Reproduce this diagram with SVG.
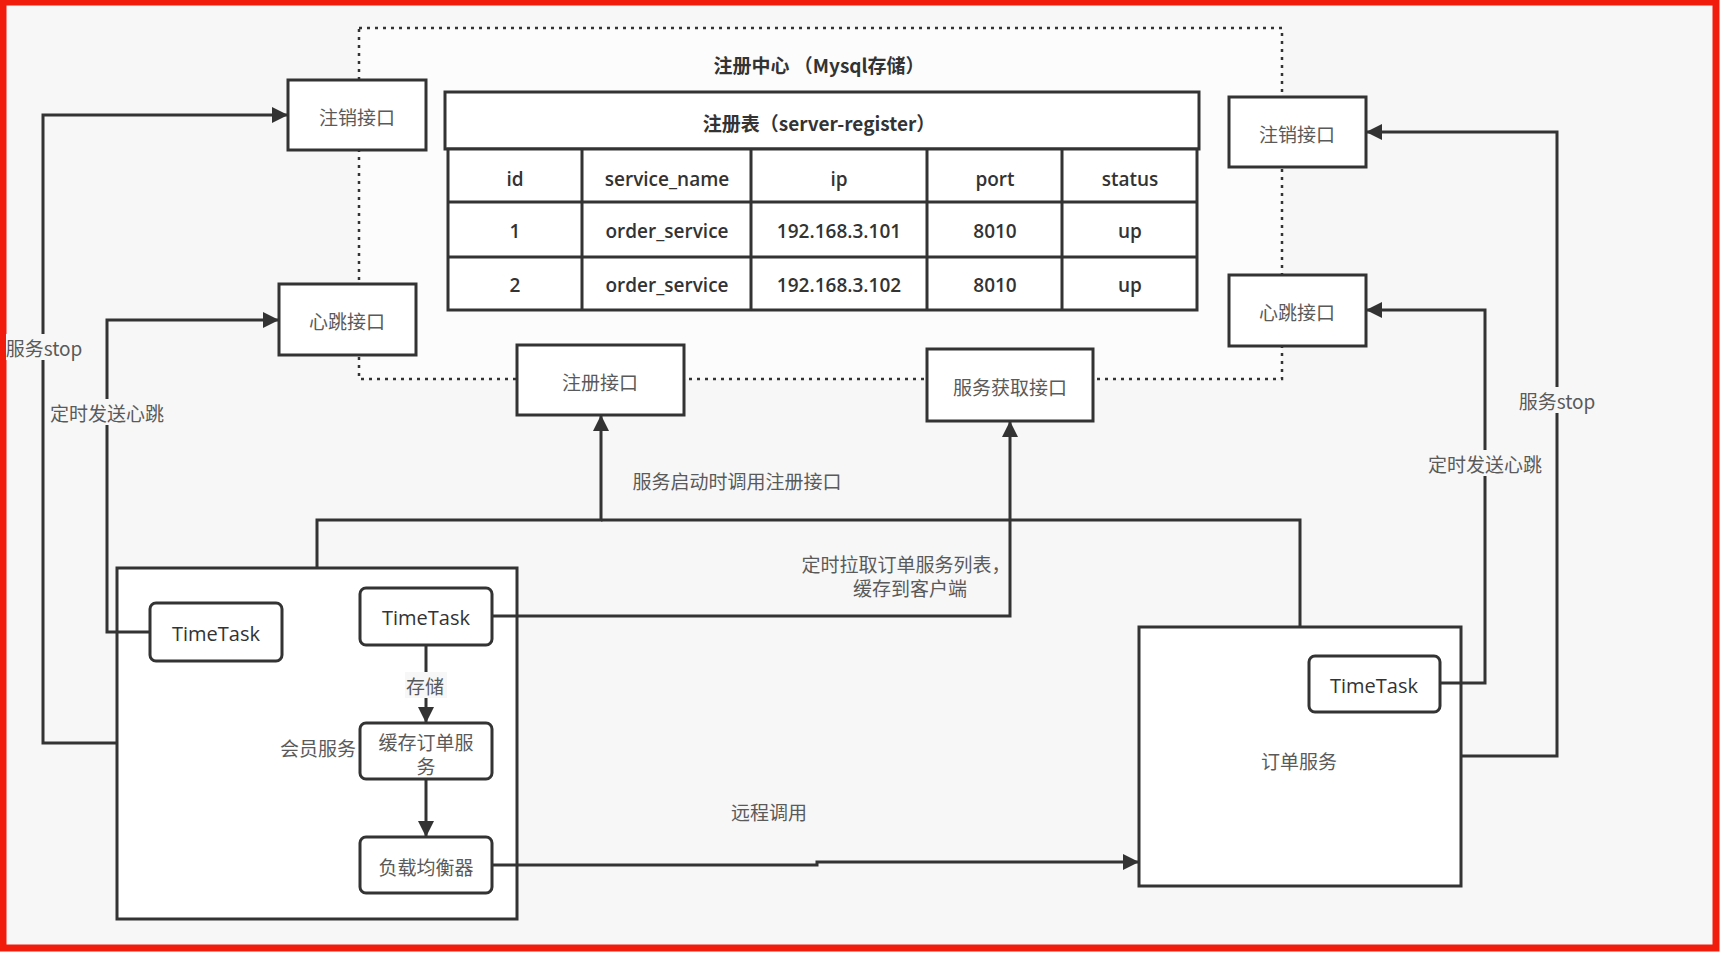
<svg xmlns="http://www.w3.org/2000/svg" width="1723" height="955" viewBox="0 0 1723 955">
<defs>
<marker id="arr" viewBox="0 0 10 10" refX="10" refY="5" markerUnits="userSpaceOnUse" markerWidth="20" markerHeight="16" orient="auto"><path d="M0,0 L10,5 L0,10 z" fill="#333"/></marker>
<style>
.box{fill:#fff;stroke:#333;stroke-width:3}
.cn{font-family:"Noto Sans CJK SC","Noto Sans",sans-serif;font-size:19px;fill:#5a5a5a;text-anchor:middle;dominant-baseline:central}
.en{font-family:"Open Sans","Noto Sans",sans-serif;font-size:20px;fill:#333;text-anchor:middle;dominant-baseline:central}
.tb{font-family:"Open Sans","Noto Sans CJK SC",sans-serif;font-size:19px;font-weight:600;fill:#333;text-anchor:middle;dominant-baseline:central}
.tt{font-family:"Noto Sans CJK SC","Open Sans",sans-serif;font-size:19px;font-weight:700;fill:#333;text-anchor:middle;dominant-baseline:central}
.ln{fill:none;stroke:#333;stroke-width:3}
.lbg{fill:#f7f7f7}
</style>
</defs>
<rect x="0" y="0" width="1723" height="955" fill="#fff"/>
<rect x="3" y="2" width="1713" height="946" fill="#f7f7f7" stroke="#f21c0c" stroke-width="7"/>
<g id="registry-center">
<rect x="359" y="28" width="923" height="351" fill="#fcfcfc" stroke="#333" stroke-width="2.5" stroke-dasharray="3,5"/>
<text class="tt" x="819" y="64">注册中心 （Mysql存储）</text>
</g>
<g id="register-table">
<rect x="445" y="92" width="754" height="57" fill="#fff" stroke="#333" stroke-width="3"/>
<text class="tt" x="819" y="122">注册表（server-register）</text>
<rect x="448" y="149" width="749" height="161" fill="#fff" stroke="#333" stroke-width="3"/>
<path class="ln" d="M448,202 H1197 M448,257 H1197 M582,149 V310 M751,149 V310 M927,149 V310 M1062,149 V310"/>
<text class="tb" x="515" y="179">id</text>
<text class="tb" x="667" y="179">service_name</text>
<text class="tb" x="839" y="179">ip</text>
<text class="tb" x="995" y="179">port</text>
<text class="tb" x="1130" y="179">status</text>
<text class="tb" x="515" y="231">1</text>
<text class="tb" x="667" y="231">order_service</text>
<text class="tb" x="839" y="231">192.168.3.101</text>
<text class="tb" x="995" y="231">8010</text>
<text class="tb" x="1130" y="231">up</text>
<text class="tb" x="515" y="285">2</text>
<text class="tb" x="667" y="285">order_service</text>
<text class="tb" x="839" y="285">192.168.3.102</text>
<text class="tb" x="995" y="285">8010</text>
<text class="tb" x="1130" y="285">up</text>
</g>
<g id="deregister-left"><rect class="box" x="288" y="80" width="138" height="70"/><text class="cn" x="357" y="116">注销接口</text></g>
<g id="heartbeat-left"><rect class="box" x="279" y="284" width="137" height="71"/><text class="cn" x="347" y="320">心跳接口</text></g>
<g id="register-api"><rect class="box" x="517" y="345" width="167" height="70"/><text class="cn" x="600" y="381">注册接口</text></g>
<g id="fetch-api"><rect class="box" x="927" y="349" width="166" height="72"/><text class="cn" x="1010" y="386">服务获取接口</text></g>
<g id="deregister-right"><rect class="box" x="1229" y="97" width="137" height="70"/><text class="cn" x="1297" y="133">注销接口</text></g>
<g id="heartbeat-right"><rect class="box" x="1229" y="275" width="137" height="71"/><text class="cn" x="1297" y="311">心跳接口</text></g>
<g id="member-service">
<rect class="box" x="117" y="568" width="400" height="351"/>
<text class="cn" x="318" y="747">会员服务</text>
</g>
<g id="member-timetask-1"><rect class="box" x="150" y="603" width="132" height="58" rx="6"/><text class="en" x="216" y="633">TimeTask</text></g>
<g id="member-timetask-2"><rect class="box" x="360" y="588" width="132" height="57" rx="6"/><text class="en" x="426" y="617">TimeTask</text></g>
<g id="cache-order"><rect class="box" x="360" y="723" width="132" height="56" rx="6"/><text class="cn" x="426" y="741">缓存订单服</text><text class="cn" x="426" y="765">务</text></g>
<g id="load-balancer"><rect class="box" x="360" y="837" width="132" height="56" rx="6"/><text class="cn" x="426" y="866">负载均衡器</text></g>
<g id="order-service">
<rect class="box" x="1139" y="627" width="322" height="259"/>
<text class="cn" x="1299" y="760">订单服务</text>
</g>
<g id="order-timetask"><rect class="box" x="1309" y="656" width="131" height="56" rx="6"/><text class="en" x="1374" y="685">TimeTask</text></g>
<g id="connectors">
<path class="ln" d="M117,743 H43 V115 H288" marker-end="url(#arr)"/>
<path class="ln" d="M150,632 H107 V320 H279" marker-end="url(#arr)"/>
<path class="ln" d="M317,568 V520 H601 V415" marker-end="url(#arr)"/>
<path class="ln" d="M1300,627 V520 H601"/>
<path class="ln" d="M492,616 H1010 V421" marker-end="url(#arr)"/>
<path class="ln" d="M426,645 V723" marker-end="url(#arr)"/>
<path class="ln" d="M426,779 V837" marker-end="url(#arr)"/>
<path class="ln" d="M492,865 H817 V862 H1139" marker-end="url(#arr)"/>
<path class="ln" d="M1461,756 H1557 V132 H1366" marker-end="url(#arr)"/>
<path class="ln" d="M1440,683 H1485 V310 H1366" marker-end="url(#arr)"/>
<rect class="lbg" x="6" y="334" width="78" height="26"/>
<text class="cn" x="44" y="347">服务stop</text>
<rect class="lbg" x="47" y="399" width="120" height="26"/>
<text class="cn" x="107" y="412">定时发送心跳</text>
<text class="cn" x="737" y="480">服务启动时调用注册接口</text>
<text class="cn" x="906" y="563">定时拉取订单服务列表，</text>
<text class="cn" x="910" y="587">缓存到客户端</text>
<rect class="lbg" x="405" y="672" width="42" height="26"/>
<text class="cn" x="425" y="685">存储</text>
<text class="cn" x="769" y="811">远程调用</text>
<rect class="lbg" x="1518" y="387" width="78" height="26"/>
<text class="cn" x="1557" y="400">服务stop</text>
<rect class="lbg" x="1425" y="450" width="120" height="26"/>
<text class="cn" x="1485" y="463">定时发送心跳</text>
</g>
</svg>
